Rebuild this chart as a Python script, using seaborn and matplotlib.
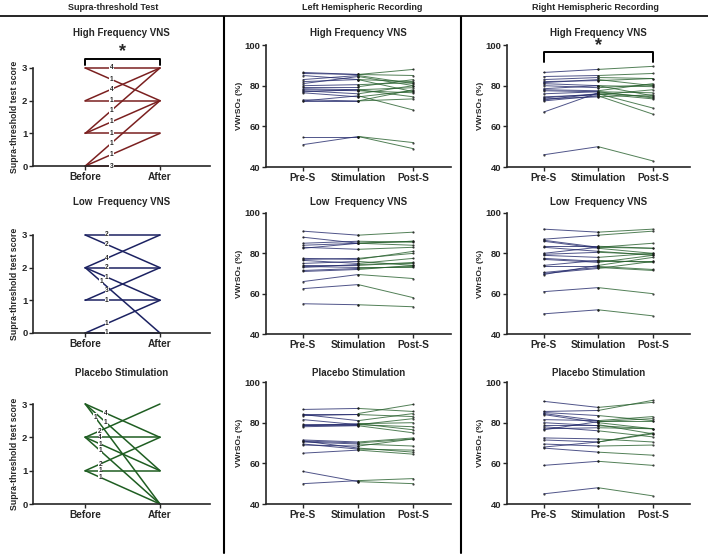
import pandas as pd
import matplotlib.pyplot as plt
from matplotlib.lines import Line2D
import seaborn as sns

# column headers / panel titles
HEADERS = ['Supra-threshold Test', 'Left Hemispheric Recording', 'Right Hemispheric Recording']
CONDITIONS = ['High Frequency VNS', 'Low  Frequency VNS', 'Placebo Stimulation']
SUPRA_TIMES = ['Before', 'After']
NIRS_TIMES = ['Pre-S', 'Stimulation', 'Post-S']

# supra-threshold score transitions (before -> after, number of subjects)
HF_BEFORE = [3, 3, 2, 2, 1, 1, 1, 0, 0, 0]
HF_AFTER = [3, 2, 3, 2, 3, 2, 1, 2, 1, 0]
HF_COUNT = [4, 1, 4, 1, 1, 1, 1, 1, 1, 3]

LF_BEFORE = [3, 3, 2, 2, 2, 2, 1, 1, 0, 0]
LF_AFTER = [3, 2, 3, 2, 1, 0, 2, 1, 1, 0]
LF_COUNT = [2, 2, 4, 2, 1, 1, 3, 1, 1, 1]

PL_BEFORE = [3, 3, 3, 2, 2, 2, 2, 1, 1, 1]
PL_AFTER = [2, 1, 0, 3, 2, 1, 0, 2, 1, 0]
PL_COUNT = [4, 1, 1, 2, 4, 1, 1, 2, 1, 1]

# VWrSO2 (%) left hemisphere
L_HF_PRE = [86.5, 86, 85, 83, 82, 81, 79.5, 78.5, 78, 77.5, 77, 76.5, 73, 72.5, 72.5, 55, 51, 80]
L_HF_STIM = [85.5, 85.5, 83, 85, 83, 84.5, 79.5, 78, 77.5, 76, 78, 74.5, 72.5, 75, 72.5, 55, 55, 80.5]
L_HF_POST = [88, 85, 82, 81, 77, 80, 83, 79, 76.5, 80, 74.5, 77.5, 73.5, 68, 78, 52, 49, 81.5]

L_LF_PRE = [91, 88, 85, 84, 83, 82.5, 77.5, 77, 76.5, 75, 74, 73.5, 73, 71.5, 71, 66, 62.5, 55]
L_LF_STIM = [89, 85, 86, 85, 82, 85, 77, 77.5, 75, 76, 74, 73, 74.5, 72.5, 72, 69.5, 64.5, 54.5]
L_LF_POST = [90.5, 86, 85.5, 84, 83, 86, 81, 80, 77.5, 74, 75.5, 73, 75, 73.5, 74, 67.5, 58, 53.5]

L_PL_PRE = [86.5, 84.5, 84, 83.5, 81.5, 79.5, 79, 78.5, 78, 71.5, 71, 70.5, 69.5, 69, 65, 71, 56, 50]
L_PL_STIM = [87, 84.5, 81, 84, 79, 79.5, 79, 79.5, 78.5, 70.5, 70, 69.5, 67, 68.5, 66.5, 67.5, 51, 51.5]
L_PL_POST = [85.5, 89, 84.5, 83, 82, 80, 78, 76.5, 75, 72.5, 72, 68.5, 66.5, 72, 64.5, 65.5, 50, 52.5]

# VWrSO2 (%) right hemisphere
R_HF_PRE = [86.5, 84.5, 83, 82, 81.5, 81, 78.5, 78, 77.5, 74.5, 74, 73.5, 73, 72.5, 67, 46, 80, 76]
R_HF_STIM = [88, 85, 84, 82.5, 83, 80, 80, 77.5, 77, 75.5, 76, 74.5, 76, 75, 76.5, 50, 79, 77]
R_HF_POST = [89.5, 86, 83.5, 83.5, 80, 79.5, 75, 81, 74, 78, 73.5, 75.5, 69, 66, 74.5, 43, 80.5, 76.5]

R_LF_PRE = [92, 87, 86.5, 86, 83.5, 83, 80, 79.5, 79, 77.5, 77, 74, 73.5, 70.5, 70, 69.5, 61, 50]
R_LF_STIM = [90.5, 89, 83, 82.5, 83.5, 81, 83, 80.5, 78, 76, 75.5, 76.5, 73.5, 73, 72.5, 74, 63, 52]
R_LF_POST = [92, 91, 85, 80, 82.5, 79, 82.5, 79.5, 80, 76, 79, 75.5, 72, 71.5, 76, 78, 60, 49]

R_PL_PRE = [90.5, 85.5, 85, 84.5, 84, 81.5, 80, 79, 77, 76.5, 72.5, 71.5, 69.5, 68, 67.5, 59, 45, 78]
R_PL_STIM = [87.5, 86, 83.5, 81, 80, 81, 78.5, 79, 77.5, 80.5, 72, 70.5, 68.5, 70.5, 65.5, 61, 48, 76]
R_PL_POST = [90, 91, 81, 83, 77, 81, 77, 74.5, 77, 82, 70.5, 74.5, 69, 75, 64, 59, 44, 73]

# where along each line (0 = Before, 1 = After) the count label sits
HF_LABEL_AT = [0.35] * 10
LF_LABEL_AT = [0.29, 0.29, 0.29, 0.29, 0.29, 0.21, 0.29, 0.29, 0.29, 0.29]
PL_LABEL_AT = [0.27, 0.27, 0.13, 0.19, 0.2, 0.2, 0.2, 0.2, 0.2, 0.2]

W, H = 708, 557


def px_rect(left, top, right, bottom):
    return [left / W, 1 - bottom / H, (right - left) / W, (bottom - top) / H]


def supra_frame(before, after):
    rows = []
    for i, (b, a) in enumerate(zip(before, after)):
        rows.append({'pair': i, 't': 0, 'score': b})
        rows.append({'pair': i, 't': 1, 'score': a})
    return pd.DataFrame(rows)


def nirs_frame(pre, stim, post):
    rows = []
    for i, vals in enumerate(zip(pre, stim, post)):
        for t, v in enumerate(vals):
            rows.append({'subject': i, 't': t, 'value': v})
    return pd.DataFrame(rows)


sns.set_theme(style='ticks')
plt.rcParams['font.family'] = ['Liberation Sans', 'DejaVu Sans']
plt.rcParams['font.weight'] = 'bold'
plt.rcParams['axes.linewidth'] = 1.2
plt.rcParams['xtick.major.width'] = 1.0
plt.rcParams['ytick.major.width'] = 1.0
plt.rcParams['xtick.major.size'] = 3
plt.rcParams['ytick.major.size'] = 3
plt.rcParams['xtick.major.pad'] = 1.5
plt.rcParams['ytick.major.pad'] = 1

fig = plt.figure(figsize=(7.08, 5.57), dpi=100)

row_px = {'supra': [(68, 166), (235, 333), (404, 504)],
          'nirs': [(45, 167), (213, 334), (382, 504)]}
col_px = [(33, 210), (266, 451), (507, 690)]
title_y = [33, 202, 373]

supra_sets = [(HF_BEFORE, HF_AFTER, HF_COUNT, HF_LABEL_AT),
              (LF_BEFORE, LF_AFTER, LF_COUNT, LF_LABEL_AT),
              (PL_BEFORE, PL_AFTER, PL_COUNT, PL_LABEL_AT)]
supra_colors = ['#7b2020', '#1c2262', '#1f5e22']
nirs_sets = [
    [(L_HF_PRE, L_HF_STIM, L_HF_POST), (L_LF_PRE, L_LF_STIM, L_LF_POST), (L_PL_PRE, L_PL_STIM, L_PL_POST)],
    [(R_HF_PRE, R_HF_STIM, R_HF_POST), (R_LF_PRE, R_LF_STIM, R_LF_POST), (R_PL_PRE, R_PL_STIM, R_PL_POST)],
]
seg1_color = '#242a6c'
seg2_color = '#27602d'

axes = {}
for r in range(3):
    # supra-threshold column
    top, bottom = row_px['supra'][r]
    ax = fig.add_axes(px_rect(col_px[0][0], top, col_px[0][1], bottom))
    before, after, count, label_at = supra_sets[r]
    df = supra_frame(before, after)
    sns.lineplot(data=df, x='t', y='score', units='pair', estimator=None,
                 color=supra_colors[r], lw=1.1, clip_on=False, ax=ax)
    for b, a, c, f in zip(before, after, count, label_at):
        ax.text(f, b + f * (a - b), str(c), fontsize=4.8, ha='center', va='center',
                fontweight='bold', bbox=dict(fc='white', ec='none', pad=0.3), zorder=5)
    ax.set_xlim(-0.7, 1.67)
    ax.set_ylim(0, 3)
    ax.set_xticks(range(len(SUPRA_TIMES)))
    ax.set_xticklabels(SUPRA_TIMES, fontsize=7.3, fontweight='bold')
    ax.set_yticks([0, 1, 2, 3])
    ax.tick_params(axis='y', labelsize=6.8)
    ax.set_xlabel('')
    ax.set_ylabel('Supra-threshold test score', fontsize=6.3, fontweight='bold', labelpad=2)
    sns.despine(ax=ax)
    axes[(r, 0)] = ax

    # NIRS columns
    for c in range(2):
        top, bottom = row_px['nirs'][r]
        ax = fig.add_axes(px_rect(col_px[c + 1][0], top, col_px[c + 1][1], bottom))
        pre, stim, post = nirs_sets[c][r]
        df = nirs_frame(pre, stim, post)
        sns.lineplot(data=df[df['t'] <= 1], x='t', y='value', units='subject', estimator=None,
                     color=seg1_color, alpha=0.8, lw=0.7, marker='o', markersize=1.6,
                     markeredgewidth=0, mfc='#151515', ax=ax)
        sns.lineplot(data=df[df['t'] >= 1], x='t', y='value', units='subject', estimator=None,
                     color=seg2_color, alpha=0.8, lw=0.7, marker='o', markersize=1.6,
                     markeredgewidth=0, mfc='#151515', ax=ax)
        ax.set_xlim(-0.67, 2.68)
        ax.set_ylim(40, 100)
        ax.set_xticks(range(len(NIRS_TIMES)))
        ax.set_xticklabels(NIRS_TIMES, fontsize=7.3, fontweight='bold')
        ax.set_yticks([40, 60, 80, 100])
        ax.tick_params(axis='y', labelsize=6.8)
        ax.set_xlabel('')
        ax.set_ylabel('VWrSO\u2082 (%)', fontsize=6, fontweight='bold', labelpad=1)
        sns.despine(ax=ax)
        axes[(r, c + 1)] = ax

    for c in range(3):
        x0, x1 = col_px[c]
        fig.text((x0 + x1) / 2 / W, 1 - title_y[r] / H, CONDITIONS[r], fontsize=7,
                 fontweight='bold', ha='center', va='center')

# significance brackets
ax = axes[(0, 0)]
ax.plot([0, 0, 1, 1], [3.09, 3.27, 3.27, 3.09], color='black', lw=1.4, clip_on=False)
ax.text(0.5, 3.5, '*', fontsize=13, ha='center', va='center', fontweight='bold')
ax = axes[(0, 2)]
ax.plot([0, 0, 2, 2], [91.8, 96.6, 96.6, 91.8], color='black', lw=1.4, clip_on=False)
ax.text(1, 99.8, '*', fontsize=13, ha='center', va='center', fontweight='bold')

# column headers and separators
for x, txt in zip([113, 362, 595], HEADERS):
    fig.text(x / W, 1 - 8 / H, txt, fontsize=6.5, fontweight='bold', ha='center', va='center')
fig.add_artist(Line2D([0, 1], [1 - 16 / H, 1 - 16 / H], color='black', lw=1.2))
for x in [224, 461]:
    fig.add_artist(Line2D([x / W, x / W], [1 - 17 / H, 1 - 553 / H], color='black', lw=1.5))

fig.savefig('out.png', dpi=100)
